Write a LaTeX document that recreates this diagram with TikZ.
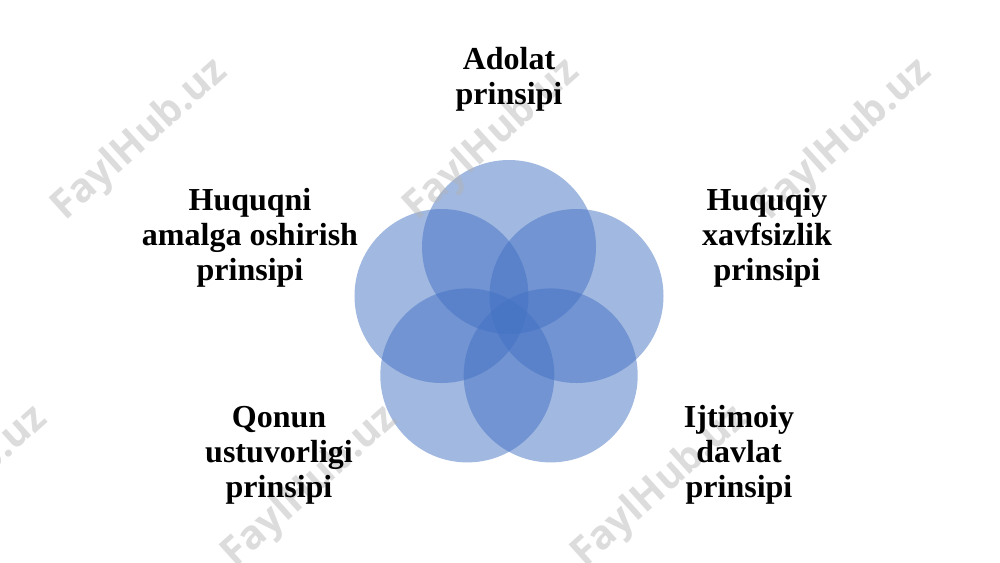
\documentclass[tikz,border=0pt]{standalone}
\usepackage{fontspec}
\setmainfont{Liberation Serif}
\newfontfamily\wmfont{Open Sans}
\definecolor{cblue}{HTML}{4472C4}
\begin{document}
\begin{tikzpicture}[x=0.75pt,y=-0.75pt,
  circ/.style={circle,fill=cblue,fill opacity=0.5,draw=none,inner sep=0pt,minimum size=130.5pt},
  lbl/.style={align=center,font=\bfseries\fontsize{24}{26.25}\selectfont,inner sep=0pt},
  wm/.style={font=\wmfont\bfseries\fontsize{30}{30}\selectfont,text=black!30,text opacity=0.45,rotate=42,inner sep=0pt}]
\useasboundingbox (0,0) rectangle (1000,562);
\fill[white] (0,0) rectangle (1000,562);
% circles
\node[circ] (ctop) at (509,247) {};
\node[circ] (cleft) at (441.5,296) {};
\node[circ] (cright) at (576.5,296) {};
\node[circ] (cbl) at (467.3,375.4) {};
\node[circ] (cbr) at (550.7,375.4) {};
% watermarks
\node[wm] (w1) at (140,140) {FaylHub.uz};
\node[wm] (w2) at (492,140) {FaylHub.uz};
\node[wm] (w3) at (844,140) {FaylHub.uz};
\node[wm] (w4) at (-40,487) {FaylHub.uz};
\node[wm] (w5) at (310,487) {FaylHub.uz};
\node[wm] (w6) at (660,487) {FaylHub.uz};
% labels
\node[lbl] (ltop) at (509,79) {Adolat\\prinsipi};
\node[lbl] (lleft) at (250,238) {Huquqni\\amalga oshirish\\prinsipi};
\node[lbl] (lright) at (767,238) {Huquqiy\\xavfsizlik\\prinsipi};
\node[lbl] (lbl) at (279,455) {Qonun\\ustuvorligi\\prinsipi};
\node[lbl] (lbr) at (739,455) {Ijtimoiy\\davlat\\prinsipi};
\end{tikzpicture}
\end{document}
